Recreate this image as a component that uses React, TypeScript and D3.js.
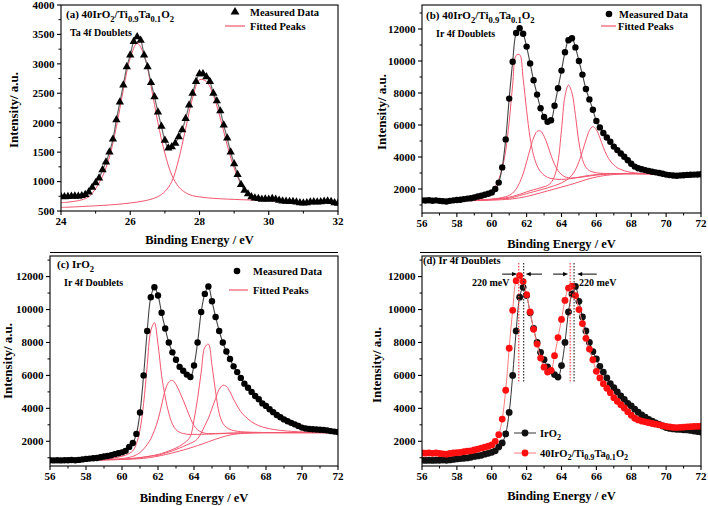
import React from "react";
import * as d3 from "d3";

// ---------- grids (binding energy, eV) ----------
const energyTa = d3.range(81).map((i) => +(24 + i * 0.1).toFixed(1));
const energyTaFit = d3.range(41).map((i) => +(24 + i * 0.2).toFixed(1));
const energyIr = d3.range(81).map((i) => +(56 + i * 0.2).toFixed(1));

// ---------- panel (a): Ta 4f, 40IrO2/Ti0.9Ta0.1O2 ----------
const taMeasured = [
  745, 740, 745, 750, 755, 750, 760, 780, 820, 900,
  980, 1060, 1200, 1330, 1500, 1720, 2050, 2350, 2640, 2950,
  3150, 3380, 3460, 3400, 3150, 2950, 2680, 2440, 2180, 1940,
  1700, 1570, 1590, 1650, 1760, 1880, 2070, 2300, 2500, 2700,
  2830, 2830, 2780, 2700, 2500, 2370, 2200, 1960, 1740, 1500,
  1300, 1120, 950, 850, 790, 740, 720, 710, 700, 705,
  700, 710, 700, 680, 670, 665, 660, 660, 650, 640,
  635, 640, 650, 655, 650, 655, 665, 670, 660, 640,
  630,
];
const taPeak1 = [
  640, 650, 665, 690, 740, 880, 1090, 1420, 1930, 2560,
  3100, 3350, 3150, 2620, 2000, 1480, 1110, 910, 810, 760,
  740, 725, 715, 708, 702, 697, 692, 688, 684, 680,
  676, 672, 668, 664, 660, 656, 652, 648, 645, 642,
  640,
];
const taPeak2 = [
  560, 565, 570, 576, 582, 588, 595, 603, 612, 623,
  636, 652, 672, 700, 745, 830, 1000, 1380, 1900, 2420,
  2730, 2700, 2470, 2080, 1620, 1230, 960, 820, 745, 705,
  685, 672, 664, 658, 653, 649, 646, 644, 642, 641,
  640,
];

// ---------- panel (b): Ir 4f, 40IrO2/Ti0.9Ta0.1O2 ----------
const irTaMeasured = [
  1290, 1280, 1300, 1270, 1290, 1260, 1240, 1220, 1260, 1290,
  1310, 1330, 1370, 1400, 1420, 1470, 1530, 1580, 1640, 1700,
  1780, 2000, 2400, 3350, 5100, 7650, 9950, 11750, 12050, 11700,
  10900, 9850, 8800, 7900, 7050, 6500, 6200, 6300, 7200, 8300,
  9400, 10550, 11300, 11420, 10850, 10000, 9150, 8250, 7600, 6950,
  6250, 5850, 5500, 5220, 4950, 4650, 4430, 4220, 4020, 3800,
  3580, 3400, 3300, 3230, 3180, 3130, 3080, 3040, 3000, 2950,
  2900, 2870, 2840, 2830, 2850, 2860, 2880, 2890, 2900, 2910,
  2920,
];
const irTaPeak1 = [
  1250, 1252, 1255, 1258, 1262, 1266, 1270, 1276, 1282, 1290,
  1300, 1312, 1326, 1344, 1366, 1395, 1435, 1490, 1570, 1690,
  1870, 2150, 2600, 3300, 4400, 6200, 8500, 10350, 10400, 8900,
  6900, 5200, 4100, 3450, 3080, 2860, 2730, 2660, 2620, 2600,
  2600, 2610, 2630, 2660, 2700, 2740, 2780, 2820, 2850, 2880,
  2900, 2920, 2930, 2940, 2950, 2955, 2958, 2960, 2960, 2960,
  2960, 2960, 2958, 2956, 2955, 2954, 2953, 2952, 2951, 2950,
  2950, 2950, 2950, 2950, 2950, 2950, 2950, 2950, 2950, 2950,
  2950,
];
const irTaPeak2 = [
  1250, 1251, 1252, 1254, 1256, 1258, 1260, 1263, 1266, 1270,
  1274, 1278, 1283, 1289, 1296, 1304, 1313, 1324, 1337, 1353,
  1372, 1396, 1426, 1465, 1520, 1600, 1750, 2000, 2400, 2950,
  3700, 4500, 5200, 5600, 5620, 5300, 4750, 4100, 3550, 3150,
  2900, 2760, 2700, 2690, 2700, 2720, 2750, 2780, 2810, 2840,
  2870, 2890, 2910, 2925, 2935, 2945, 2950, 2955, 2958, 2960,
  2960, 2960, 2958, 2956, 2955, 2954, 2953, 2952, 2951, 2950,
  2950, 2950, 2950, 2950, 2950, 2950, 2950, 2950, 2950, 2950,
  2950,
];
const irTaPeak3 = [
  1250, 1250, 1251, 1252, 1253, 1254, 1256, 1258, 1260, 1263,
  1266, 1270, 1274, 1279, 1285, 1292, 1300, 1310, 1322, 1336,
  1352, 1370, 1392, 1418, 1450, 1490, 1540, 1600, 1670, 1745,
  1820, 1890, 1955, 2015, 2075, 2140, 2220, 2400, 2800, 3700,
  5700, 7800, 8500, 8000, 6600, 4900, 3850, 3350, 3150, 3060,
  3010, 2985, 2975, 2970, 2966, 2963, 2961, 2960, 2960, 2960,
  2960, 2960, 2958, 2956, 2955, 2954, 2953, 2952, 2951, 2950,
  2950, 2950, 2950, 2950, 2950, 2950, 2950, 2950, 2950, 2950,
  2950,
];
const irTaPeak4 = [
  1250, 1250, 1251, 1252, 1253, 1254, 1255, 1257, 1259, 1261,
  1264, 1267, 1271, 1275, 1280, 1286, 1293, 1301, 1310, 1320,
  1332, 1346, 1362, 1380, 1400, 1422, 1470, 1530, 1590, 1650,
  1710, 1770, 1830, 1890, 1950, 2010, 2070, 2140, 2210, 2290,
  2380, 2500, 2650, 2870, 3200, 3700, 4350, 5050, 5650, 5900,
  5700, 5200, 4600, 4100, 3750, 3500, 3330, 3220, 3140, 3080,
  3040, 3010, 2990, 2975, 2965, 2960, 2957, 2955, 2953, 2951,
  2950, 2950, 2950, 2950, 2950, 2950, 2950, 2950, 2950, 2950,
  2950,
];
const irTaBackground = [
  1250, 1250, 1250, 1251, 1252, 1253, 1254, 1255, 1257, 1259,
  1261, 1263, 1266, 1269, 1272, 1276, 1280, 1285, 1290, 1296,
  1302, 1310, 1320, 1332, 1346, 1362, 1385, 1415, 1450, 1490,
  1535, 1585, 1640, 1700, 1760, 1820, 1880, 1940, 2000, 2060,
  2120, 2180, 2240, 2300, 2370, 2440, 2510, 2580, 2640, 2700,
  2750, 2790, 2830, 2860, 2885, 2905, 2920, 2932, 2940, 2945,
  2948, 2950, 2950, 2950, 2950, 2950, 2950, 2950, 2950, 2950,
  2950, 2950, 2950, 2950, 2950, 2950, 2950, 2950, 2950, 2950,
  2950,
];

// ---------- panel (c): Ir 4f, IrO2 ----------
const irO2Measured = [
  850, 840, 850, 840, 850, 850, 860, 850, 870, 900,
  930, 950, 970, 990, 1030, 1080, 1110, 1150, 1220, 1270,
  1330, 1420, 1660, 1900, 2450, 3750, 6000, 8700, 10750, 11350,
  10850, 9800, 8850, 8000, 7400, 6950, 6520, 6280, 6050, 5900,
  6600, 8000, 9850, 10950, 11400, 10500, 9550, 8700, 8000, 7450,
  7000, 6550, 6200, 5850, 5500, 5250, 5000, 4750, 4550, 4300,
  4150, 3950, 3770, 3600, 3460, 3330, 3220, 3120, 3030, 2930,
  2830, 2780, 2750, 2730, 2720, 2700, 2690, 2660, 2620, 2590,
  2560,
];
const irO2Peak1 = [
  850, 850, 851, 852, 853, 855, 857, 860, 864, 869,
  875, 882, 890, 900, 912, 927, 946, 970, 1000, 1040,
  1090, 1160, 1260, 1420, 1850, 2700, 4300, 6600, 8700, 9200,
  7900, 6000, 4700, 3700, 3050, 2700, 2550, 2470, 2430, 2420,
  2420, 2420, 2425, 2430, 2435, 2440, 2450, 2460, 2470, 2480,
  2490, 2495, 2500, 2505, 2510, 2515, 2518, 2520, 2522, 2524,
  2525, 2525, 2525, 2525, 2525, 2525, 2525, 2525, 2525, 2525,
  2525, 2525, 2525, 2525, 2525, 2525, 2525, 2525, 2525, 2525,
  2525,
];
const irO2Peak2 = [
  850, 850, 851, 852, 853, 854, 856, 858, 860, 863,
  866, 870, 875, 880, 886, 893, 901, 910, 920, 932,
  950, 980, 1020, 1080, 1180, 1320, 1530, 1800, 2150, 2650,
  3300, 4200, 5100, 5600, 5700, 5450, 5000, 4500, 3950, 3400,
  2950, 2700, 2560, 2490, 2470, 2470, 2475, 2480, 2485, 2490,
  2495, 2500, 2505, 2510, 2513, 2516, 2519, 2521, 2523, 2524,
  2525, 2525, 2525, 2525, 2525, 2525, 2525, 2525, 2525, 2525,
  2525, 2525, 2525, 2525, 2525, 2525, 2525, 2525, 2525, 2525,
  2525,
];
const irO2Peak3 = [
  850, 850, 850, 851, 852, 853, 854, 855, 857, 859,
  861, 864, 867, 871, 875, 880, 886, 892, 900, 908,
  918, 930, 944, 960, 980, 1005, 1035, 1070, 1110, 1150,
  1200, 1260, 1330, 1410, 1500, 1590, 1700, 1850, 2020, 2300,
  3300, 4600, 6200, 7700, 7900, 6600, 5000, 3700, 3100, 2850,
  2720, 2650, 2610, 2585, 2570, 2560, 2550, 2545, 2540, 2535,
  2530, 2530, 2528, 2527, 2526, 2525, 2525, 2525, 2525, 2525,
  2525, 2525, 2525, 2525, 2525, 2525, 2525, 2525, 2525, 2525,
  2525,
];
const irO2Peak4 = [
  850, 850, 850, 851, 851, 852, 853, 854, 855, 857,
  859, 861, 864, 867, 870, 874, 878, 883, 889, 895,
  905, 920, 940, 960, 985, 1010, 1040, 1070, 1100, 1125,
  1150, 1210, 1280, 1350, 1420, 1500, 1590, 1680, 1780, 1880,
  1980, 2150, 2500, 2950, 3400, 4000, 4600, 5150, 5400, 5330,
  5000, 4550, 4150, 3800, 3550, 3350, 3180, 3050, 2950, 2870,
  2810, 2760, 2720, 2690, 2660, 2640, 2620, 2605, 2590, 2580,
  2570, 2560, 2553, 2547, 2542, 2538, 2534, 2531, 2528, 2526,
  2525,
];
const irO2Background = [
  850, 850, 850, 850, 851, 851, 852, 853, 854, 855,
  857, 859, 861, 864, 867, 870, 874, 878, 883, 889,
  895, 902, 910, 919, 930, 945, 965, 990, 1020, 1055,
  1095, 1140, 1190, 1240, 1295, 1350, 1410, 1470, 1530, 1600,
  1670, 1740, 1810, 1890, 1970, 2050, 2130, 2200, 2270, 2330,
  2380, 2420, 2450, 2470, 2485, 2495, 2505, 2512, 2517, 2520,
  2522, 2524, 2525, 2525, 2525, 2525, 2525, 2525, 2525, 2525,
  2525, 2525, 2525, 2525, 2525, 2525, 2525, 2525, 2525, 2525,
  2525,
];

// ---------- panel (d): peak positions ----------
const peakPosIrTa = [61.55, 64.5];
const peakPosIrO2 = [61.83, 64.72];
const shiftLabels = ["220 meV", "220 meV"];

// ---------- ticks ----------
const xTicksTa = [24, 26, 28, 30, 32];
const xMinorTa = [25, 27, 29, 31];
const yTicksTa = [500, 1000, 1500, 2000, 2500, 3000, 3500, 4000];
const yMinorTa = [750, 1250, 1750, 2250, 2750, 3250, 3750];
const xTicksIr = [56, 58, 60, 62, 64, 66, 68, 70, 72];
const xMinorIr = [57, 59, 61, 63, 65, 67, 69, 71];
const yTicksIr = [2000, 4000, 6000, 8000, 10000, 12000];
const yMinorIr = [1000, 3000, 5000, 7000, 9000, 11000, 13000];

type Seg = { t: string; sub?: boolean };
const formulaTa: Seg[] = [
  { t: "40IrO" }, { t: "2", sub: true }, { t: "/Ti" }, { t: "0.9", sub: true },
  { t: "Ta" }, { t: "0.1", sub: true }, { t: "O" }, { t: "2", sub: true },
];
const formulaIr: Seg[] = [{ t: "IrO" }, { t: "2", sub: true }];

const FONT = "'Liberation Serif', 'Times New Roman', serif";
const FIT = "#f4566e";

function Rich({ x, y, prefix, segs, size }: { x: number; y: number; prefix?: string; segs: Seg[]; size: number }) {
  let cur = 0;
  const spans: any[] = [];
  if (prefix) spans.push(<tspan key="p">{prefix}</tspan>);
  segs.forEach((s, i) => {
    const target = s.sub ? size * 0.32 : 0;
    const dy = target - cur;
    cur = target;
    spans.push(
      <tspan key={i} dy={dy} fontSize={s.sub ? size * 0.78 : size}>
        {s.t}
      </tspan>
    );
  });
  return (
    <text x={x} y={y} fontSize={size} fontWeight="bold" fontFamily={FONT} fill="#000">
      {spans}
    </text>
  );
}

type Sc = d3.ScaleLinear<number, number>;

function Axes({ x, y, xTicks, xMinor, yTicks, yMinor, xTitleY, yTitleX, yTitleY }: any) {
  const [l, r] = x.range();
  const [b, t] = y.range();
  return (
    <g fontFamily={FONT} fontWeight="bold">
      <rect x={l} y={t} width={r - l} height={b - t} fill="none" stroke="#000" strokeWidth={1.1} />
      {xTicks.map((v: number) => (
        <g key={"xt" + v}>
          <line x1={x(v)} x2={x(v)} y1={b} y2={b + 4} stroke="#000" strokeWidth={1.1} />
          <text x={x(v)} y={b + 13.5} textAnchor="middle" fontSize={11}>{v}</text>
        </g>
      ))}
      {xMinor.map((v: number) => (
        <line key={"xm" + v} x1={x(v)} x2={x(v)} y1={b} y2={b + 2.5} stroke="#000" strokeWidth={1} />
      ))}
      {yTicks.map((v: number) => (
        <g key={"yt" + v}>
          <line x1={l - 4} x2={l} y1={y(v)} y2={y(v)} stroke="#000" strokeWidth={1.1} />
          <text x={l - 6.5} y={y(v) + 3.8} textAnchor="end" fontSize={11}>{v}</text>
        </g>
      ))}
      {yMinor.map((v: number) =>
        y(v) >= t && y(v) <= b ? (
          <line key={"ym" + v} x1={l - 2.5} x2={l} y1={y(v)} y2={y(v)} stroke="#000" strokeWidth={1} />
        ) : null
      )}
      <text x={(l + r) / 2} y={xTitleY} textAnchor="middle" fontSize={12.5}>Binding Energy / eV</text>
      <text transform={`translate(${yTitleX},${yTitleY}) rotate(-90)`} textAnchor="middle" fontSize={13}>
        Intensity/ a.u.
      </text>
    </g>
  );
}

function pathFor(xs: number[], ys: number[], x: Sc, y: Sc) {
  const gen = d3
    .line<number>()
    .x((_, i) => x(xs[i]))
    .y((d) => y(d))
    .curve(d3.curveCatmullRom.alpha(0.5));
  return gen(ys) || "";
}

export default function App() {
  // scales
  const xa = d3.scaleLinear().domain([24, 32]).range([61, 338]);
  const ya = d3.scaleLinear().domain([500, 4000]).range([211, 5]);
  const xb = d3.scaleLinear().domain([56, 72]).range([422, 701]);
  const yb = d3.scaleLinear().domain([500, 13500]).range([213, 5]);
  const xc = d3.scaleLinear().domain([56, 72]).range([50, 338]);
  const yc = d3.scaleLinear().domain([500, 13250]).range([466, 256]);
  const xd = d3.scaleLinear().domain([56, 72]).range([422, 701]);
  const yd = d3.scaleLinear().domain([500, 13250]).range([466, 256]);

  const tri = d3.symbol(d3.symbolTriangle, 30)() || "";
  const triLegend = d3.symbol(d3.symbolTriangle, 34)() || "";

  const clip = (id: string, x: Sc, y: Sc) => {
    const [l, r] = x.range();
    const [b, t] = y.range();
    return (
      <clipPath id={id}>
        <rect x={l} y={t} width={r - l} height={b - t} />
      </clipPath>
    );
  };

  const arrowY = yd(12150);
  const dotTop = yd(12830);
  const dotBottom = yd(5540);

  const arrow = (from: number, to: number, key: string) => {
    const x1 = xd(from);
    const x2 = xd(to);
    const dir = Math.sign(x2 - x1);
    return (
      <g key={key}>
        <line x1={x1} x2={x2 - dir * 4} y1={arrowY} y2={arrowY} stroke="#000" strokeWidth={1} />
        <path d={`M${x2},${arrowY} L${x2 - dir * 5},${arrowY - 2.2} L${x2 - dir * 5},${arrowY + 2.2} Z`} fill="#000" />
      </g>
    );
  };

  return (
    <svg width={708} height={506} style={{ position: "absolute", left: 0, top: 0, background: "#fff" }}>
      <rect width={708} height={506} fill="#fff" />
      <defs>
        {clip("ca", xa, ya)}
        {clip("cb", xb, yb)}
        {clip("cc", xc, yc)}
        {clip("cd", xd, yd)}
      </defs>

      {/* separator lines */}
      <line x1={50} x2={338} y1={252.5} y2={252.5} stroke="#000" strokeWidth={1} />
      <line x1={420} x2={701} y1={252.5} y2={252.5} stroke="#000" strokeWidth={1} />

      {/* ---------- panel (a) ---------- */}
      <g clipPath="url(#ca)">
        {[taPeak1, taPeak2].map((s, i) => (
          <path key={i} d={pathFor(energyTaFit, s, xa, ya)} fill="none" stroke={FIT} strokeWidth={1} />
        ))}
        <path d={pathFor(energyTa, taMeasured, xa, ya)} fill="none" stroke="#666" strokeWidth={1.2} />
        {taMeasured.map((v, i) => (
          <path key={i} d={tri} transform={`translate(${xa(energyTa[i])},${ya(v)})`} fill="#000" />
        ))}
      </g>
      <Axes x={xa} y={ya} xTicks={xTicksTa} xMinor={xMinorTa} yTicks={yTicksTa} yMinor={yMinorTa}
        xTitleY={243.5} yTitleX={17.5} yTitleY={110} />
      <Rich x={66} y={18} prefix="(a)  " segs={formulaTa} size={11} />
      <text x={70} y={36} fontSize={10} fontWeight="bold" fontFamily={FONT}>Ta 4f Doublets</text>
      <path d={triLegend} transform={`translate(235,12)`} fill="#000" />
      <text x={250} y={15.5} fontSize={10.5} fontWeight="bold" fontFamily={FONT}>Measured Data</text>
      <line x1={225} x2={245} y1={26} y2={26} stroke={FIT} strokeWidth={1.2} />
      <text x={250} y={30} fontSize={10.5} fontWeight="bold" fontFamily={FONT}>Fitted Peaks</text>

      {/* ---------- panel (b) ---------- */}
      <g clipPath="url(#cb)">
        {[irTaBackground, irTaPeak1, irTaPeak2, irTaPeak3, irTaPeak4].map((s, i) => (
          <path key={i} d={pathFor(energyIr, s, xb, yb)} fill="none" stroke={FIT} strokeWidth={1} />
        ))}
        <path d={pathFor(energyIr, irTaMeasured, xb, yb)} fill="none" stroke="#444" strokeWidth={1.1} />
        {irTaMeasured.map((v, i) => (
          <circle key={i} cx={xb(energyIr[i])} cy={yb(v)} r={3.2} fill="#000" />
        ))}
      </g>
      <Axes x={xb} y={yb} xTicks={xTicksIr} xMinor={xMinorIr} yTicks={yTicksIr} yMinor={yMinorIr}
        xTitleY={247.5} yTitleX={385.5} yTitleY={112} />
      <Rich x={426} y={19} prefix="(b)  " segs={formulaTa} size={11} />
      <text x={436} y={36.5} fontSize={10} fontWeight="bold" fontFamily={FONT}>Ir 4f Doublets</text>
      <circle cx={609} cy={14} r={3.3} fill="#000" />
      <text x={619} y={18} fontSize={10.5} fontWeight="bold" fontFamily={FONT}>Measured Data</text>
      <line x1={601} x2={616} y1={26} y2={26} stroke={FIT} strokeWidth={1.2} />
      <text x={618} y={30} fontSize={10.5} fontWeight="bold" fontFamily={FONT}>Fitted Peaks</text>

      {/* ---------- panel (c) ---------- */}
      <g clipPath="url(#cc)">
        {[irO2Background, irO2Peak1, irO2Peak2, irO2Peak3, irO2Peak4].map((s, i) => (
          <path key={i} d={pathFor(energyIr, s, xc, yc)} fill="none" stroke={FIT} strokeWidth={1} />
        ))}
        <path d={pathFor(energyIr, irO2Measured, xc, yc)} fill="none" stroke="#444" strokeWidth={1.1} />
        {irO2Measured.map((v, i) => (
          <circle key={i} cx={xc(energyIr[i])} cy={yc(v)} r={3.2} fill="#000" />
        ))}
      </g>
      <Axes x={xc} y={yc} xTicks={xTicksIr} xMinor={xMinorIr} yTicks={yTicksIr} yMinor={yMinorIr}
        xTitleY={502} yTitleX={11.5} yTitleY={361} />
      <Rich x={57} y={268} prefix="(c)  " segs={formulaIr} size={11} />
      <text x={64} y={286} fontSize={10} fontWeight="bold" fontFamily={FONT}>Ir 4f Doublets</text>
      <circle cx={237} cy={271} r={3.3} fill="#000" />
      <text x={253} y={275} fontSize={10.5} fontWeight="bold" fontFamily={FONT}>Measured Data</text>
      <line x1={229} x2={248} y1={290} y2={290} stroke={FIT} strokeWidth={1.2} />
      <text x={253} y={294} fontSize={10.5} fontWeight="bold" fontFamily={FONT}>Fitted Peaks</text>

      {/* ---------- panel (d) ---------- */}
      <g clipPath="url(#cd)">
        <path d={pathFor(energyIr, irO2Measured, xd, yd)} fill="none" stroke="#333" strokeWidth={1} />
        {irO2Measured.map((v, i) => (
          <circle key={i} cx={xd(energyIr[i])} cy={yd(v)} r={3.4} fill="#111" />
        ))}
        <path d={pathFor(energyIr, irTaMeasured, xd, yd)} fill="none" stroke="#ff7b7b" strokeWidth={1} />
        {irTaMeasured.map((v, i) => (
          <circle key={i} cx={xd(energyIr[i])} cy={yd(v)} r={3.4} fill="#ff1010" />
        ))}
        {peakPosIrTa.map((p, i) => (
          <line key={"r" + i} x1={xd(p)} x2={xd(p)} y1={dotTop} y2={dotBottom} stroke="#ff4a4a" strokeWidth={1.2} strokeDasharray="1.5,1.5" />
        ))}
        {peakPosIrO2.map((p, i) => (
          <line key={"k" + i} x1={xd(p)} x2={xd(p)} y1={dotTop} y2={dotBottom} stroke="#333" strokeWidth={1.2} strokeDasharray="1.5,1.5" />
        ))}
        {arrow(peakPosIrTa[0] - 0.95, peakPosIrTa[0] - 0.1, "a1")}
        {arrow(peakPosIrO2[0] + 1.05, peakPosIrO2[0] + 0.12, "a2")}
        {arrow(peakPosIrTa[1] - 0.98, peakPosIrTa[1] - 0.12, "a3")}
        {arrow(peakPosIrO2[1] + 1.3, peakPosIrO2[1] + 0.18, "a4")}
      </g>
      <Axes x={xd} y={yd} xTicks={xTicksIr} xMinor={xMinorIr} yTicks={yTicksIr} yMinor={yMinorIr}
        xTitleY={500} yTitleX={380.5} yTitleY={365} />
      <text x={423} y={264} fontSize={10.5} fontWeight="bold" fontFamily={FONT}>(d) Ir 4f Doublets</text>
      <text x={472} y={286} fontSize={10} fontWeight="bold" fontFamily={FONT}>{shiftLabels[0]}</text>
      <text x={579} y={286} fontSize={10} fontWeight="bold" fontFamily={FONT}>{shiftLabels[1]}</text>
      <line x1={514} x2={536} y1={433} y2={433} stroke="#333" strokeWidth={1} />
      <circle cx={525} cy={433} r={3.4} fill="#111" />
      <Rich x={540} y={437} segs={formulaIr} size={10.5} />
      <line x1={514} x2={536} y1={453} y2={453} stroke="#ff7b7b" strokeWidth={1} />
      <circle cx={525} cy={453} r={3.4} fill="#ff1010" />
      <Rich x={540} y={457} segs={formulaTa} size={10.5} />
    </svg>
  );
}
